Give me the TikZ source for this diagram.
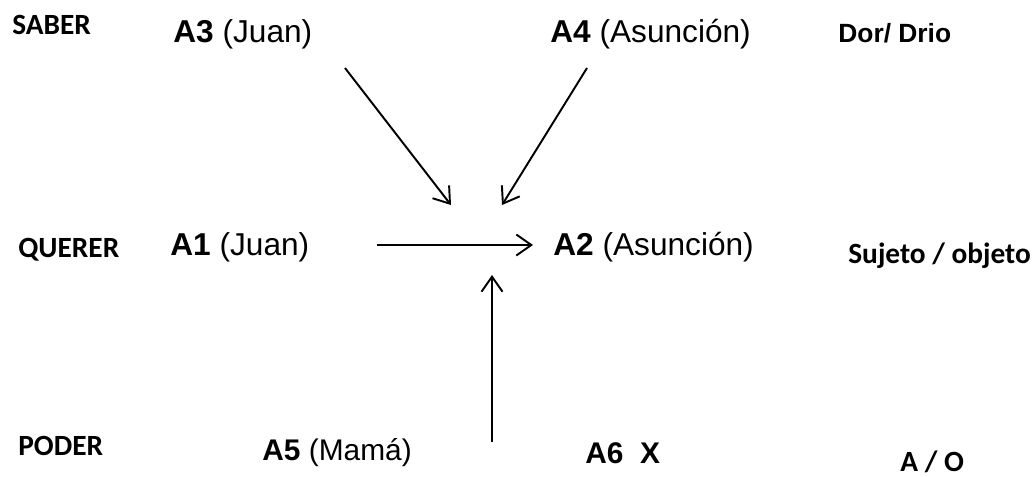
\documentclass[tikz,border=0pt]{standalone}
\usepackage{fontspec}
\setmainfont{Carlito}
\newfontfamily\arialfont{Liberation Sans}
\usetikzlibrary{arrows.meta}

\tikzset{
  rol/.style={anchor=base west,inner sep=0pt,font=\fontsize{16.7}{19}\selectfont\bfseries},
  actante/.style={anchor=base west,inner sep=0pt,font=\arialfont\fontsize{18}{21}\selectfont},
  actantebajo/.style={anchor=base west,inner sep=0pt,font=\arialfont\fontsize{17}{20}\selectfont},
  flecha/.style={->,line width=1.1pt}
}

\begin{document}
\begin{tikzpicture}[>={Straight Barb[length=3mm,width=4.2mm]}]

\useasboundingbox (0,0) rectangle (20.68,9.52);

% Row labels (left)
\node (saber) at (0.24,8.82) [rol] {SABER};
\node (querer) at (0.36,4.38) [rol] {QUERER};
\node (poder) at (0.36,0.42) [rol] {PODER};

% Actants (top row)
\node (A3) at (3.46,8.66) [actante] {\textbf{A3} (Juan)};
\node (A4) at (11.00,8.66) [actante] {\textbf{A4} (Asunción)};

% Actants (middle row)
\node (A1) at (3.40,4.42) [actante] {\textbf{A1} (Juan)};
\node (A2) at (11.06,4.42) [actante] {\textbf{A2} (Asunción)};

% Actants (bottom row)
\node (A5) at (5.24,0.32) [actantebajo] {\textbf{A5} (Mamá)};
\node (A6) at (11.70,0.26) [actantebajo] {\textbf{A6 \ X}};

% Pair labels (right)
\node (dor) at (16.76,8.66) [actante,font=\arialfont\fontsize{15}{18}\selectfont\bfseries] {Dor/ Drio};
\node (sujeto) at (16.96,4.26) [rol] {Sujeto / objeto};
\node (ao) at (18.00,0.10) [rol] {A / O};

% Arrow ends
\coordinate (a3s) at (6.90,8.16);
\coordinate (a3e) at (9.02,5.42);
\coordinate (a4s) at (11.74,8.16);
\coordinate (a4e) at (10.04,5.42);
\coordinate (a1s) at (7.54,4.62);
\coordinate (a1e) at (10.66,4.62);
\coordinate (a5s) at (9.84,0.68);
\coordinate (a5e) at (9.84,4.02);

% Arrows
\draw[flecha] (a3s) -- (a3e);
\draw[flecha] (a4s) -- (a4e);
\draw[flecha] (a1s) -- (a1e);
\draw[flecha] (a5s) -- (a5e);

\end{tikzpicture}
\end{document}
